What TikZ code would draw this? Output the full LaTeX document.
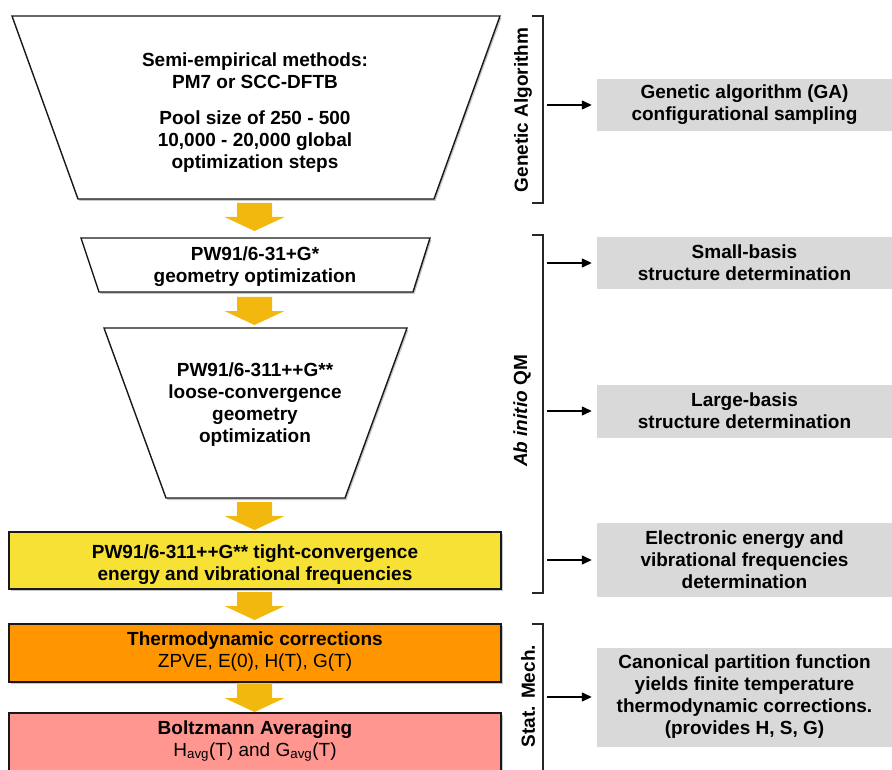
\documentclass[tikz,border=0pt]{standalone}
\usepackage{fontspec}
\setmainfont{Liberation Sans}
\usetikzlibrary{arrows.meta}
\definecolor{gold}{RGB}{242,184,14}
\definecolor{ybox}{RGB}{246,225,52}
\definecolor{obox}{RGB}{255,150,0}
\definecolor{pbox}{RGB}{255,150,143}
\definecolor{gbox}{RGB}{217,217,217}
\begin{document}
\begin{tikzpicture}[x=1pt,y=-1pt,
  txt/.style={align=center,font=\fontsize{19}{22}\selectfont\bfseries,inner sep=0pt},
  stage/.style={draw=black!90,line width=1.4pt},
  shade/.style={fill=black!22},
  side/.style={fill=gbox,minimum width=295pt,minimum height=#1,inner sep=0pt,align=center,
    font=\fontsize{19}{22}\selectfont\bfseries},
  brk/.style={draw=black!85,line width=1.4pt},
  lab/.style={rotate=90,font=\fontsize{19}{22}\selectfont\bfseries,inner sep=0pt},
  arr/.style={draw=black,line width=1.3pt,-{Triangle[length=10pt,width=9pt]},shorten >=5pt},
  goldarrow/.pic={\fill[gold] (-17.5,0) -- (17.5,0) -- (17.5,14) -- (30,14) -- (0,28) -- (-30,14) -- (-17.5,14) -- cycle;}
]
\useasboundingbox (0,0) rectangle (892,770);
\clip (0,0) rectangle (892,770);
\fill[white] (0,0) rectangle (892,770);

% shadows
\fill[shade,shift={(1.5,2)}] (12,16) -- (500,16) -- (434,199) -- (78,199) -- cycle;
\fill[shade,shift={(1.5,2)}] (81,238) -- (430,238) -- (413,292) -- (99,292) -- cycle;
\fill[shade,shift={(1.5,2)}] (104,328) -- (407,328) -- (345,498) -- (166,498) -- cycle;
\fill[shade,shift={(1.5,2)}] (9,532) rectangle (501,589);
\fill[shade,shift={(1.5,2)}] (9,624) rectangle (501,682);
\fill[shade,shift={(1.5,2)}] (9,713) rectangle (501,790);

% stages
\draw[stage,fill=white] (12,16) -- (500,16) -- (434,199) -- (78,199) -- cycle;
\node[txt] (s1) at (255,113) {Semi-empirical methods:\\PM7 or SCC-DFTB\\[14pt]Pool size of 250 - 500\\10,000 - 20,000 global\\optimization steps};

\draw[stage,fill=white] (81,238) -- (430,238) -- (413,292) -- (99,292) -- cycle;
\node[txt] (s2) at (255,267) {PW91/6-31+G*\\geometry optimization};

\draw[stage,fill=white] (104,328) -- (407,328) -- (345,498) -- (166,498) -- cycle;
\node[txt] (s3) at (255,405) {PW91/6-311++G**\\loose-convergence\\geometry\\optimization};

\draw[stage,fill=ybox] (9,532) rectangle (501,589);
\node[txt] (s4) at (255,565) {PW91/6-311++G** tight-convergence\\energy and vibrational frequencies};

\draw[stage,fill=obox] (9,624) rectangle (501,682);
\node[txt] (s5) at (255,652) {Thermodynamic corrections\\\mdseries ZPVE, E(0), H(T), G(T)};

\draw[stage,fill=pbox] (9,713) rectangle (501,790);
\node[txt] (s6) at (255,741) {Boltzmann Averaging\\\mdseries H\textsubscript{avg}(T) and G\textsubscript{avg}(T)};

% gold arrows
\pic at (254.5,203) {goldarrow};
\pic at (254.5,297) {goldarrow};
\pic at (254.5,502) {goldarrow};
\pic at (254.5,592) {goldarrow};
\pic at (254.5,684) {goldarrow};

% brackets
\draw[brk] (532,16) -- (543,16) -- (543,203) -- (532,203);
\draw[brk] (532,235) -- (543,235) -- (543,593) -- (532,593);
\draw[brk] (532,624) -- (543,624) -- (543,775);
\node[lab] (l1) at (523,110) {Genetic Algorithm};
\node[lab] (l2) at (522,411) {\textit{Ab initio} QM};
\node[lab] (l3) at (528,696) {Stat. Mech.};

% side boxes
\node[side=52pt] (g1) at (744.5,105) {Genetic algorithm (GA)\\configurational sampling};
\node[side=52pt] (g2) at (744.5,263) {Small-basis\\structure determination};
\node[side=53pt] (g3) at (744.5,411) {Large-basis\\structure determination};
\node[side=74pt] (g4) at (744.5,560) {Electronic energy and\\vibrational frequencies\\determination};
\node[side=99pt] (g5) at (744.5,697) {Canonical partition function\\yields finite temperature\\thermodynamic corrections.\\(provides H, S, G)};

\coordinate (b1) at (547,105);
\coordinate (b2) at (547,263);
\coordinate (b3) at (547,411);
\coordinate (b4) at (547,560);
\coordinate (b5) at (547,697);
\draw[arr] (b1) -- (g1.west);
\draw[arr] (b2) -- (g2.west);
\draw[arr] (b3) -- (g3.west);
\draw[arr] (b4) -- (g4.west);
\draw[arr] (b5) -- (g5.west);
\end{tikzpicture}
\end{document}
